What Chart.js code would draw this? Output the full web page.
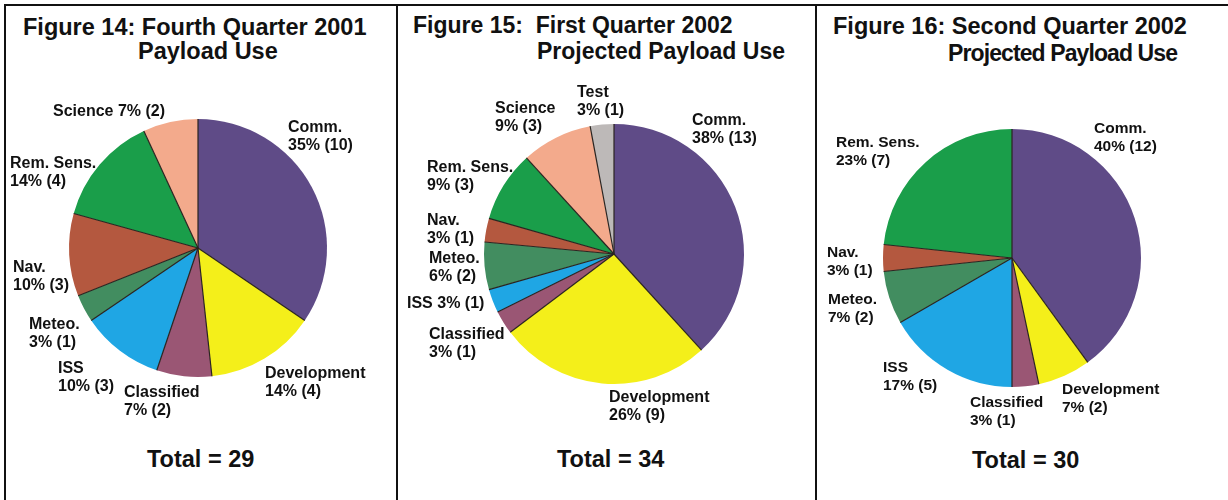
<!DOCTYPE html>
<html>
<head>
<meta charset="utf-8">
<script src="https://cdn.jsdelivr.net/npm/chart.js@4/dist/chart.umd.min.js"></script>
<style>
  html, body { margin: 0; padding: 0; background: #fff; }
  #wrap { position: relative; width: 1228px; height: 500px; overflow: hidden; }
  canvas { position: absolute; left: 0; top: 0; }
  .rule { position: absolute; background: #111; }
  .txt { position: absolute; font-family: "Liberation Sans", Arial, sans-serif; font-weight: bold;
         color: #111; white-space: pre; line-height: 23px; }
</style>
</head>
<body>
<div id="wrap">
  <div class="rule" style="left:4px;top:4px;width:1224px;height:2px"></div>
  <div class="rule" style="left:4px;top:4px;width:2px;height:496px"></div>
  <div class="rule" style="left:396px;top:4px;width:2px;height:496px"></div>
  <div class="rule" style="left:815px;top:4px;width:2px;height:496px"></div>

  <div class="txt" style="left:23px;top:16px;font-size:23.5px">Figure 14: Fourth Quarter 2001</div>
  <div class="txt" style="left:138px;top:40px;font-size:23.5px">Payload Use</div>
  <div class="txt" style="left:413px;top:14px;font-size:23px">Figure 15:  First Quarter 2002</div>
  <div class="txt" style="left:537px;top:40px;font-size:23px">Projected Payload Use</div>
  <div class="txt" style="left:833px;top:15px;font-size:23.5px">Figure 16: Second Quarter 2002</div>
  <div class="txt" style="left:948px;top:42px;font-size:23px;letter-spacing:-0.9px">Projected Payload Use</div>

  <div class="txt" id="total1" style="left:147px;top:448px;font-size:23.5px"></div>
  <div class="txt" id="total2" style="left:557px;top:448px;font-size:23.5px"></div>
  <div class="txt" id="total3" style="left:972px;top:449px;font-size:23.5px"></div>

  <canvas id="pie1" width="1228" height="500"></canvas>
  <canvas id="pie2" width="1228" height="500"></canvas>
  <canvas id="pie3" width="1228" height="500"></canvas>
</div>
<script>
// categories, clockwise from 12 o'clock
const cats1 = ['Comm.', 'Development', 'Classified', 'ISS', 'Meteo.', 'Nav.', 'Rem. Sens.', 'Science']
const cats2 = ['Comm.', 'Development', 'Classified', 'ISS', 'Meteo.', 'Nav.', 'Rem. Sens.', 'Science', 'Test']
const cats3 = ['Comm.', 'Development', 'Classified', 'ISS', 'Meteo.', 'Nav.', 'Rem. Sens.']

// payload counts
const q4_2001 = [10, 4, 2, 3, 1, 3, 4, 2]
const q1_2002 = [13, 9, 1, 1, 2, 1, 3, 3, 1]
const q2_2002 = [12, 2, 1, 5, 2, 1, 7]

// percentages as printed on the figure
const pct1 = [35, 14, 7, 10, 3, 10, 14, 7]
const pct2 = [38, 26, 3, 3, 6, 3, 9, 9, 3]
const pct3 = [40, 7, 3, 17, 7, 3, 23]

const colorOf = {
  'Comm.': '#5f4b87',
  'Development': '#f4ef1a',
  'Classified': '#9a5674',
  'ISS': '#1fa6e4',
  'Meteo.': '#428d60',
  'Nav.': '#b4583f',
  'Rem. Sens.': '#1a9e4a',
  'Science': '#f3aa8c',
  'Test': '#bdb9b8'
}

// label layout per chart: [x, baseline, single line?]
const labelPos1 = [[288, 132], [265, 378], [124, 397], [58, 373], [29, 329], [13, 272], [10, 168], [53, 116, true]]
const labelPos2 = [[692, 125], [609, 402], [429, 339], [407, 308, true], [429, 263], [427, 225], [427, 172], [495, 113], [577, 97]]
const labelPos3 = [[1094, 133], [1062, 394], [970, 407], [883, 372], [828, 304], [827, 257], [836, 147]]

const sliceLabels = {
  id: 'sliceLabels',
  afterDatasetsDraw(chart, args, opts) {
    const ctx = chart.ctx
    const meta = chart.getDatasetMeta(0)
    // thin dark separators between slices
    ctx.save()
    ctx.strokeStyle = '#2a2420'
    ctx.lineWidth = 1.2
    meta.data.forEach(arc => {
      const p = arc.getProps(['x', 'y', 'startAngle', 'outerRadius'], true)
      ctx.beginPath()
      ctx.moveTo(p.x, p.y)
      ctx.lineTo(p.x + Math.cos(p.startAngle) * p.outerRadius, p.y + Math.sin(p.startAngle) * p.outerRadius)
      ctx.stroke()
    })
    ctx.restore()

    ctx.save()
    ctx.fillStyle = '#111'
    ctx.font = 'bold ' + (opts.size || 16) + 'px "Liberation Sans", Arial, sans-serif'
    ctx.textBaseline = 'alphabetic'
    const labels = chart.data.labels
    const vals = chart.data.datasets[0].data
    opts.pos.forEach((pos, i) => {
      const second = opts.pct[i] + '% (' + vals[i] + ')'
      if (pos[2]) {
        ctx.fillText(labels[i] + ' ' + second, pos[0], pos[1])
      } else {
        ctx.fillText(labels[i], pos[0], pos[1])
        ctx.fillText(second, pos[0], pos[1] + 18)
      }
    })
    ctx.restore()
  }
}

function makePie(canvasId, cats, values, pct, pos, pad, size) {
  return new Chart(document.getElementById(canvasId), {
    type: 'pie',
    data: {
      labels: cats,
      datasets: [{
        data: values,
        backgroundColor: cats.map(c => colorOf[c]),
        borderWidth: 0
      }]
    },
    options: {
      responsive: false,
      animation: false,
      events: [],
      layout: { padding: pad },
      plugins: {
        legend: { display: false },
        tooltip: { enabled: false },
        sliceLabels: { pos: pos, pct: pct, size: size }
      }
    },
    plugins: [sliceLabels]
  })
}

makePie('pie1', cats1, q4_2001, pct1, labelPos1, { left: 69, top: 119, right: 901, bottom: 123 }, 16)
makePie('pie2', cats2, q1_2002, pct2, labelPos2, { left: 484, top: 124, right: 484, bottom: 116 }, 16)
makePie('pie3', cats3, q2_2002, pct3, labelPos3, { left: 883, top: 129, right: 87, bottom: 113 }, 15.5)

const sum = arr => arr.reduce((a, b) => a + b, 0)
document.getElementById('total1').textContent = 'Total = ' + sum(q4_2001)
document.getElementById('total2').textContent = 'Total = ' + sum(q1_2002)
document.getElementById('total3').textContent = 'Total = ' + sum(q2_2002)
</script>
</body>
</html>
